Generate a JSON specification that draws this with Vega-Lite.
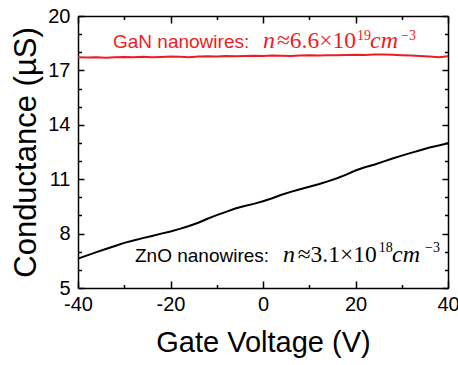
{
  "$schema": "https://vega.github.io/schema/vega-lite/v6.json",
  "width": 370,
  "height": 272,
  "autosize": "none",
  "padding": {"left": 78, "top": 16, "right": 10, "bottom": 77},
  "background": "white",
  "config": {
    "view": {"stroke": null},
    "axis": {
      "grid": false,
      "domainColor": "black",
      "domainWidth": 1.5,
      "tickColor": "black",
      "tickWidth": 1.5,
      "labelColor": "black",
      "titleColor": "black",
      "labelFont": "Liberation Sans",
      "titleFont": "Liberation Sans",
      "titleFontWeight": "normal",
      "labelFlush": false,
      "labelOverlap": false
    }
  },
  "datasets": {
    "zno": [
      {"V": -40, "G": 6.62}, {"V": -38, "G": 6.8}, {"V": -36, "G": 6.98}, {"V": -34, "G": 7.15},
      {"V": -32, "G": 7.32}, {"V": -30, "G": 7.49}, {"V": -28, "G": 7.62}, {"V": -26, "G": 7.75},
      {"V": -24, "G": 7.87}, {"V": -22, "G": 8.0}, {"V": -20, "G": 8.12}, {"V": -18, "G": 8.26},
      {"V": -16, "G": 8.42}, {"V": -14, "G": 8.6}, {"V": -12, "G": 8.82}, {"V": -10, "G": 9.02},
      {"V": -8, "G": 9.2}, {"V": -6, "G": 9.38}, {"V": -4, "G": 9.52}, {"V": -2, "G": 9.64},
      {"V": 0, "G": 9.78}, {"V": 2, "G": 9.95}, {"V": 4, "G": 10.14}, {"V": 6, "G": 10.3},
      {"V": 8, "G": 10.45}, {"V": 10, "G": 10.58}, {"V": 12, "G": 10.72}, {"V": 14, "G": 10.88},
      {"V": 16, "G": 11.05}, {"V": 18, "G": 11.25}, {"V": 20, "G": 11.48}, {"V": 22, "G": 11.66},
      {"V": 24, "G": 11.8}, {"V": 26, "G": 11.97}, {"V": 28, "G": 12.14}, {"V": 30, "G": 12.3},
      {"V": 32, "G": 12.45}, {"V": 34, "G": 12.6}, {"V": 36, "G": 12.75}, {"V": 38, "G": 12.86},
      {"V": 40, "G": 12.98}
    ],
    "gan": [
      {"V": -40, "G": 17.72}, {"V": -38, "G": 17.71}, {"V": -36, "G": 17.73}, {"V": -34, "G": 17.7},
      {"V": -32, "G": 17.72}, {"V": -30, "G": 17.74}, {"V": -28, "G": 17.73}, {"V": -26, "G": 17.75},
      {"V": -24, "G": 17.73}, {"V": -22, "G": 17.74}, {"V": -20, "G": 17.76}, {"V": -18, "G": 17.75},
      {"V": -16, "G": 17.73}, {"V": -14, "G": 17.76}, {"V": -12, "G": 17.78}, {"V": -10, "G": 17.77},
      {"V": -8, "G": 17.79}, {"V": -6, "G": 17.78}, {"V": -4, "G": 17.8}, {"V": -2, "G": 17.81},
      {"V": 0, "G": 17.8}, {"V": 2, "G": 17.82}, {"V": 4, "G": 17.81}, {"V": 6, "G": 17.8},
      {"V": 8, "G": 17.82}, {"V": 10, "G": 17.83}, {"V": 12, "G": 17.82}, {"V": 14, "G": 17.84},
      {"V": 16, "G": 17.83}, {"V": 18, "G": 17.85}, {"V": 20, "G": 17.86}, {"V": 22, "G": 17.85},
      {"V": 24, "G": 17.87}, {"V": 26, "G": 17.88}, {"V": 28, "G": 17.86}, {"V": 30, "G": 17.84},
      {"V": 32, "G": 17.82}, {"V": 34, "G": 17.8}, {"V": 36, "G": 17.76}, {"V": 38, "G": 17.73},
      {"V": 40, "G": 17.78}
    ],
    "sans": [
      {"x": -32.43, "y": 18.24, "t": "GaN nanowires:", "s": "GaN"},
      {"x": -27.68, "y": 6.45, "t": "ZnO nanowires:", "s": "ZnO"}
    ],
    "ital": [
      {"x": 0.0, "y": 18.24, "t": "n", "s": "GaN"},
      {"x": 23.14, "y": 18.24, "t": "cm", "s": "GaN"},
      {"x": 4.32, "y": 6.45, "t": "n", "s": "ZnO"},
      {"x": 27.89, "y": 6.45, "t": "cm", "s": "ZnO"}
    ],
    "upr": [
      {"x": 3.0, "y": 18.24, "t": "≈6.6×10", "s": "GaN"},
      {"x": 7.5, "y": 6.45, "t": "≈3.1×10", "s": "ZnO"}
    ],
    "sup": [
      {"x": 20.3, "y": 18.68, "t": "19", "s": "GaN"},
      {"x": 29.84, "y": 18.68, "t": "−3", "s": "GaN"},
      {"x": 25.0, "y": 6.97, "t": "18", "s": "ZnO"},
      {"x": 35.03, "y": 6.97, "t": "−3", "s": "ZnO"}
    ]
  },
  "layer": [
    {
      "data": {"name": "zno"},
      "mark": {"type": "line", "color": "black", "strokeWidth": 2},
      "encoding": {
        "x": {"field": "V", "type": "quantitative",
          "scale": {"domain": [-40, 40], "nice": false, "zero": false},
          "axis": {"orient": "bottom", "values": [-40, -20, 0, 20, 40], "tickSize": -7, "labelPadding": 13,
            "labelFontSize": 20, "labelExpr": "'' + datum.value",
            "title": "Gate Voltage (V)", "titleFontSize": 29, "titlePadding": 14}},
        "y": {"field": "G", "type": "quantitative",
          "scale": {"domain": [5, 20], "nice": false, "zero": false},
          "axis": {"orient": "left", "values": [5, 8, 11, 14, 17, 20], "tickSize": -6, "labelPadding": 14,
            "labelFontSize": 20, "labelExpr": "'' + datum.value",
            "title": "Conductance (µS)", "titleFontSize": 31, "titlePadding": 5}}
      }
    },
    {
      "data": {"name": "gan"},
      "mark": {"type": "line", "color": "#ec1c24", "strokeWidth": 2},
      "encoding": {
        "x": {"field": "V", "type": "quantitative",
          "scale": {"domain": [-40, 40], "nice": false, "zero": false},
          "axis": {"orient": "top", "values": [-40, -20, 0, 20, 40], "tickSize": -7, "labels": false, "title": null}},
        "y": {"field": "G", "type": "quantitative",
          "scale": {"domain": [5, 20], "nice": false, "zero": false},
          "axis": {"orient": "right", "values": [5, 8, 11, 14, 17, 20], "tickSize": -6, "labels": false, "title": null}}
      }
    },
    {
      "data": {"name": "sans"},
      "mark": {"type": "text", "align": "left", "baseline": "alphabetic", "font": "Liberation Sans", "fontSize": 19},
      "encoding": {
        "x": {"field": "x", "type": "quantitative",
          "scale": {"domain": [-40, 40], "nice": false, "zero": false},
          "axis": {"orient": "bottom", "values": [-30, -10, 10, 30], "tickSize": -3.5, "labels": false, "domain": false, "title": null}},
        "y": {"field": "y", "type": "quantitative",
          "scale": {"domain": [5, 20], "nice": false, "zero": false},
          "axis": {"orient": "left", "values": [6, 7, 9, 10, 12, 13, 15, 16, 18, 19], "tickSize": -3.5, "labels": false, "domain": false, "title": null}},
        "text": {"field": "t"},
        "color": {"field": "s", "type": "nominal", "scale": {"domain": ["GaN", "ZnO"], "range": ["#ec1c24", "black"]}, "legend": null}
      }
    },
    {
      "data": {"name": "ital"},
      "mark": {"type": "text", "align": "left", "baseline": "alphabetic", "font": "Liberation Serif", "fontStyle": "italic", "fontSize": 24},
      "encoding": {
        "x": {"field": "x", "type": "quantitative",
          "scale": {"domain": [-40, 40], "nice": false, "zero": false},
          "axis": {"orient": "top", "values": [-30, -10, 10, 30], "tickSize": -3.5, "labels": false, "domain": false, "title": null}},
        "y": {"field": "y", "type": "quantitative",
          "scale": {"domain": [5, 20], "nice": false, "zero": false},
          "axis": {"orient": "right", "values": [6, 7, 9, 10, 12, 13, 15, 16, 18, 19], "tickSize": -3.5, "labels": false, "domain": false, "title": null}},
        "text": {"field": "t"},
        "color": {"field": "s", "type": "nominal", "scale": {"domain": ["GaN", "ZnO"], "range": ["#ec1c24", "black"]}, "legend": null}
      }
    },
    {
      "data": {"name": "upr"},
      "mark": {"type": "text", "align": "left", "baseline": "alphabetic", "font": "Liberation Serif", "fontSize": 23.5},
      "encoding": {
        "x": {"field": "x", "type": "quantitative", "scale": {"domain": [-40, 40], "nice": false, "zero": false}, "axis": null},
        "y": {"field": "y", "type": "quantitative", "scale": {"domain": [5, 20], "nice": false, "zero": false}, "axis": null},
        "text": {"field": "t"},
        "color": {"field": "s", "type": "nominal", "scale": {"domain": ["GaN", "ZnO"], "range": ["#ec1c24", "black"]}, "legend": null}
      }
    },
    {
      "data": {"name": "sup"},
      "mark": {"type": "text", "align": "left", "baseline": "alphabetic", "font": "Liberation Serif", "fontSize": 14},
      "encoding": {
        "x": {"field": "x", "type": "quantitative", "scale": {"domain": [-40, 40], "nice": false, "zero": false}, "axis": null},
        "y": {"field": "y", "type": "quantitative", "scale": {"domain": [5, 20], "nice": false, "zero": false}, "axis": null},
        "text": {"field": "t"},
        "color": {"field": "s", "type": "nominal", "scale": {"domain": ["GaN", "ZnO"], "range": ["#ec1c24", "black"]}, "legend": null}
      }
    }
  ],
  "resolve": {"axis": {"x": "independent", "y": "independent"}}
}
